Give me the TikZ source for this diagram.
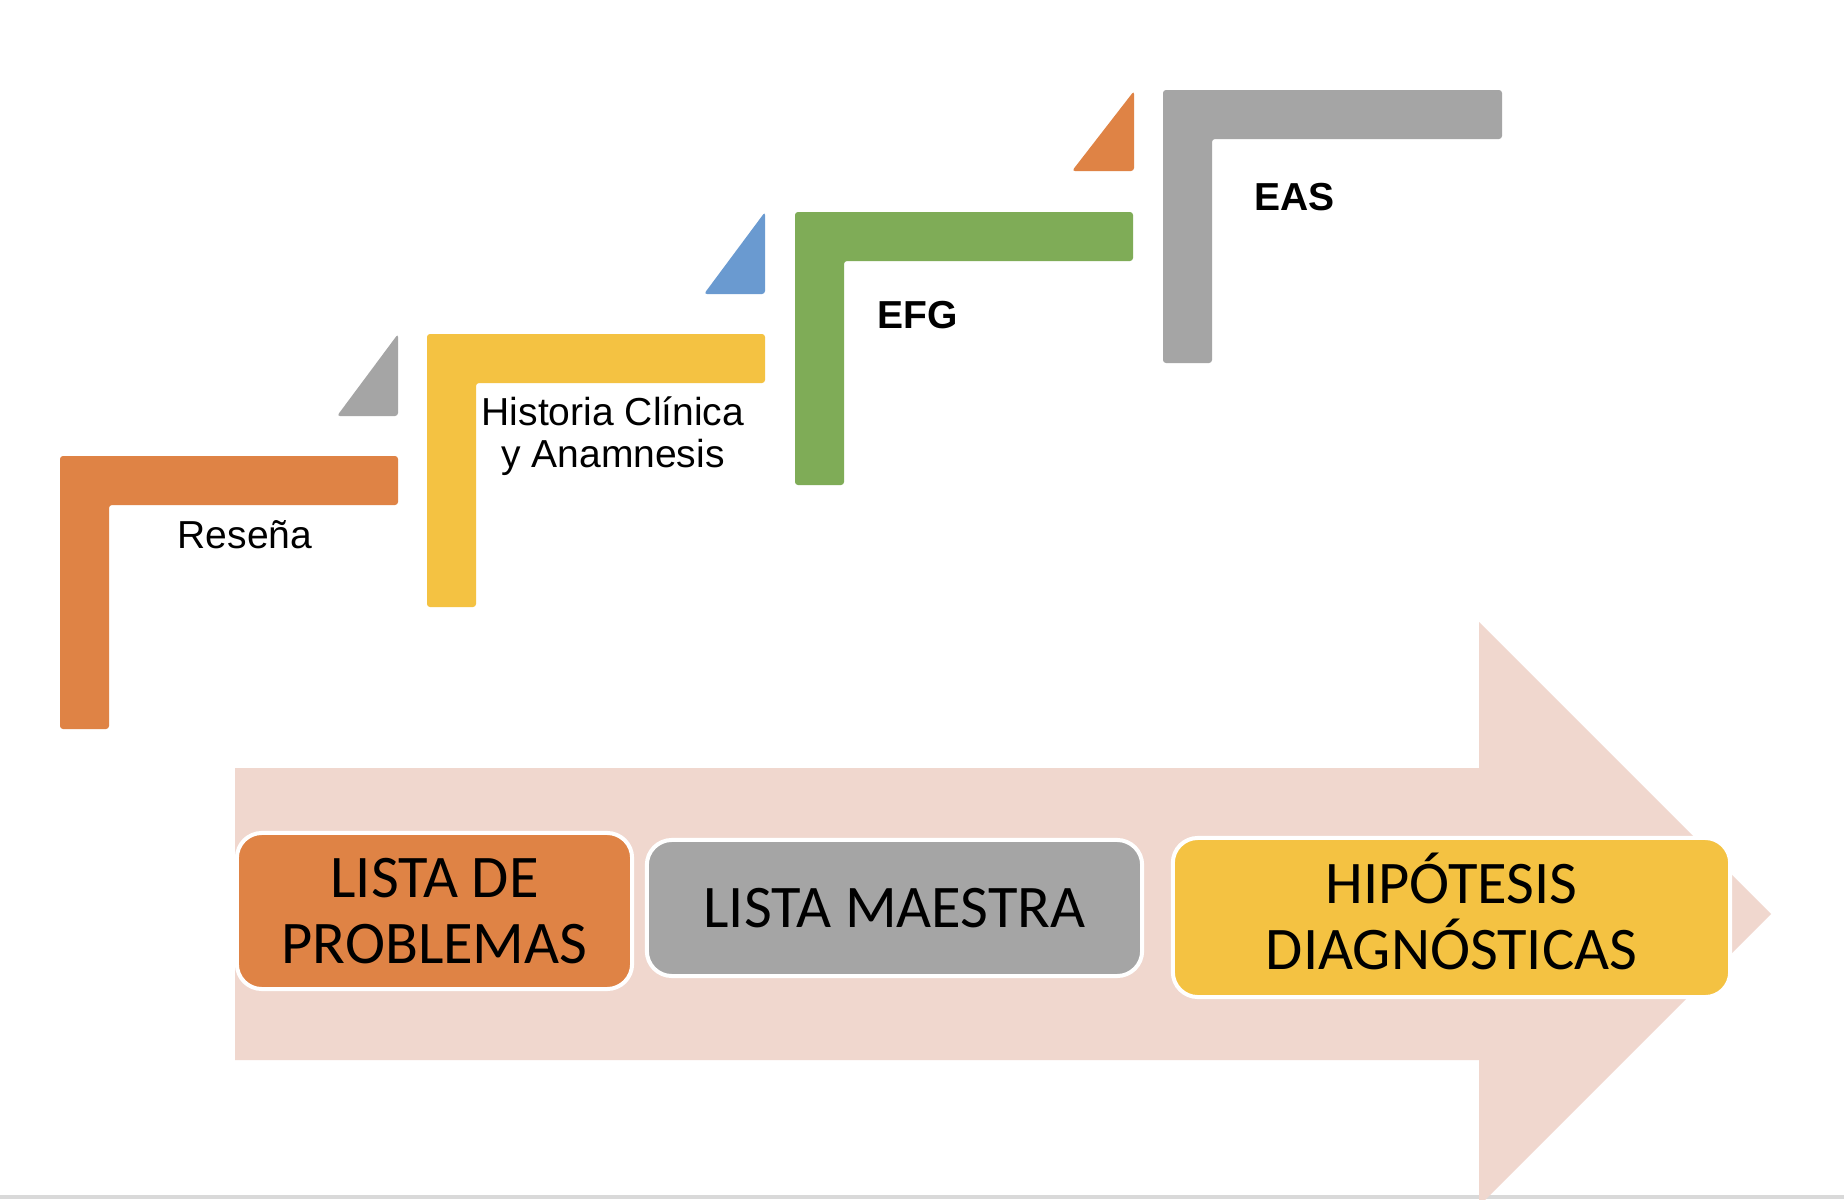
\documentclass[tikz,border=0pt]{standalone}
\usepackage{fontspec}
\setmainfont{Liberation Sans}
\newfontfamily\boxfont{Carlito}
\usepackage{xcolor}
\usepackage{tikz}
\definecolor{stepOrange}{HTML}{DF8345}
\definecolor{stepYellow}{HTML}{F4C242}
\definecolor{stepGreen}{HTML}{7FAC57}
\definecolor{stepGray}{HTML}{A5A5A5}
\definecolor{stepBlue}{HTML}{6A9AD0}
\definecolor{arrowPink}{HTML}{F0D7CE}
\definecolor{ruleGray}{HTML}{D9D9D9}

\begin{document}
\begin{tikzpicture}[x=0.01cm, y=-0.01cm,
    stair/.style={fill=#1, rounded corners=0.3mm},
    lbl/.style={font=\fontsize{11.1pt}{11.7pt}\selectfont, inner sep=0pt},
    stagebox/.style={fill=#1, draw=white, line width=0.4mm, rounded corners=2.5mm,
      inner sep=0pt, align=center, font=\boxfont\fontsize{17.2pt}{18.9pt}\selectfont}]
  \useasboundingbox (0,0) rectangle (1844,1200);
  \fill[white] (0,0) rectangle (1844,1200);
  \draw[ruleGray, line width=0.35mm] (0,1197) -- (1844,1197);
  \fill[arrowPink] (235,768) -- (1479,768) -- (1479,622) -- (1771,914)
    -- (1479,1206) -- (1479,1060) -- (235,1060) -- cycle;
  \fill[stair=stepOrange] (60,729) -- (60,456) -- (398,456) -- (398,505) -- (109,505) -- (109,729) -- cycle;
  \fill[stair=stepYellow] (427,607) -- (427,334) -- (765,334) -- (765,383) -- (476,383) -- (476,607) -- cycle;
  \fill[stair=stepGreen] (795,485) -- (795,212) -- (1133,212) -- (1133,261) -- (844,261) -- (844,485) -- cycle;
  \fill[stair=stepGray] (1163,363) -- (1163,90) -- (1502,90) -- (1502,139) -- (1212,139) -- (1212,363) -- cycle;
  \fill[stair=stepGray] (398,334) -- (398,416) -- (337,416) -- cycle;
  \fill[stair=stepBlue] (765,212) -- (765,294) -- (704,294) -- cycle;
  \fill[stair=stepOrange] (1134,91) -- (1134,171) -- (1072,171) -- cycle;
  \node[lbl, anchor=base west] (resena) at (177,548) {Reseña};
  \node[lbl, anchor=base, align=center] (historia) at (613,467) {Historia Clínica\\y Anamnesis};
  \node[lbl, anchor=base west, font=\fontsize{11.1pt}{11.7pt}\selectfont\bfseries] (efg) at (877,328) {EFG};
  \node[lbl, anchor=base west, font=\fontsize{11.1pt}{11.7pt}\selectfont\bfseries] (eas) at (1254,210) {EAS};
  \node[stagebox=stepOrange, minimum width=3.95cm, minimum height=1.56cm] (problemas) at (434.5,911) {LISTA DE\\PROBLEMAS};
  \node[stagebox=stepGray, minimum width=4.95cm, minimum height=1.36cm] (maestra) at (894.5,908) {LISTA MAESTRA};
  \node[stagebox=stepYellow, minimum width=5.57cm, minimum height=1.59cm] (hipotesis) at (1451.5,917.5) {\smash{HIPÓTESIS}\vphantom{H}\\DIAGNÓSTICAS};
\end{tikzpicture}
\end{document}
